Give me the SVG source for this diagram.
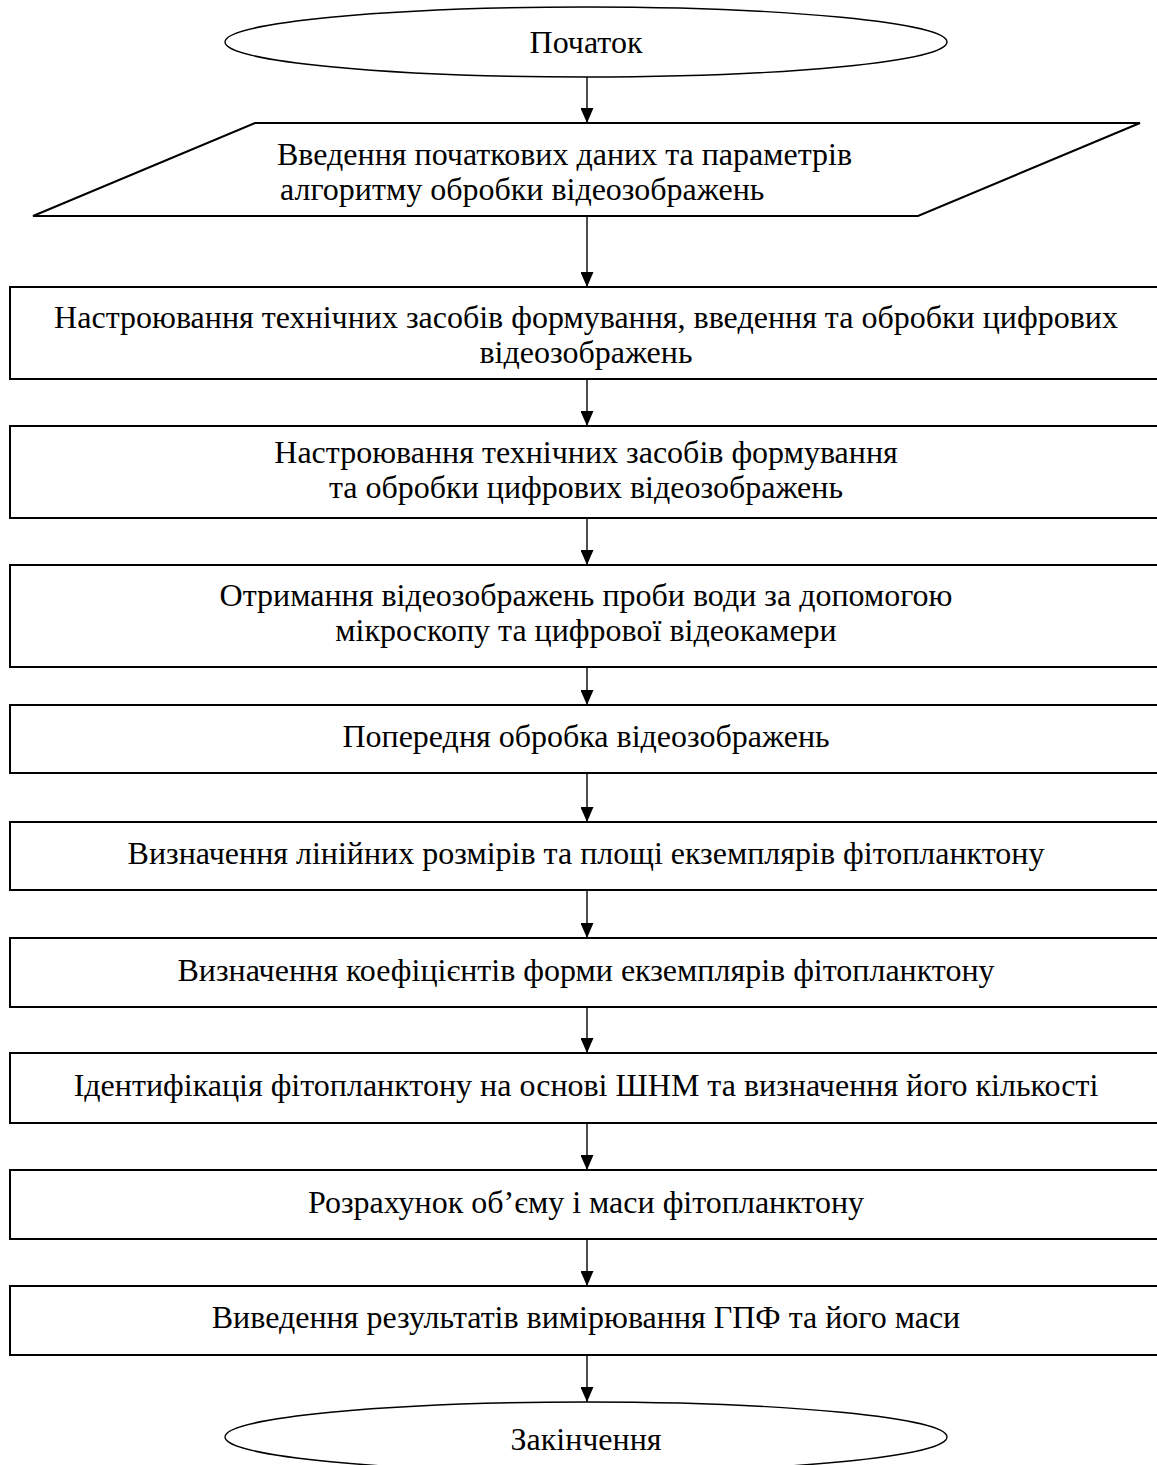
<svg xmlns="http://www.w3.org/2000/svg" width="1157" height="1465" viewBox="0 0 1157 1465">
  <style>
    .shape { fill: #ffffff; stroke: #000000; stroke-width: 2; }
    .term { fill: #ffffff; stroke: #000000; stroke-width: 1.4; }
    .lbl { font-family: "Liberation Serif", "Times New Roman", serif; font-size: 32px; fill: #000000; }
    .mid { text-anchor: middle; }
    .conn { stroke: #000000; stroke-width: 1.4; fill: none; marker-end: url(#arrow); }
  </style>
  <defs>
    <!-- filled arrowhead, tip at the end of the line -->
    <marker id="arrow" markerUnits="userSpaceOnUse" markerWidth="15" markerHeight="13" refX="15" refY="6.5" orient="auto" viewBox="0 0 15 13">
      <path d="M0,0 L15,6.5 L0,13 Z" fill="#000000"/>
    </marker>
  </defs>
  <rect width="1157" height="1465" fill="#ffffff"/>

  <!-- connectors -->
  <g id="connectors">
    <line class="conn" x1="587" y1="77" x2="587" y2="123"/>
    <line class="conn" x1="587" y1="216" x2="587" y2="287"/>
    <line class="conn" x1="587" y1="379" x2="587" y2="426"/>
    <line class="conn" x1="587" y1="518" x2="587" y2="565"/>
    <line class="conn" x1="587" y1="667" x2="587" y2="705"/>
    <line class="conn" x1="587" y1="773" x2="587" y2="822"/>
    <line class="conn" x1="587" y1="890" x2="587" y2="938"/>
    <line class="conn" x1="587" y1="1007" x2="587" y2="1053"/>
    <line class="conn" x1="587" y1="1123" x2="587" y2="1170"/>
    <line class="conn" x1="587" y1="1239" x2="587" y2="1286"/>
    <line class="conn" x1="587" y1="1355" x2="587" y2="1402"/>
  </g>

  <g id="start">
    <ellipse class="term" cx="586" cy="42" rx="361" ry="35"/>
    <text class="lbl mid" x="586" y="53">Початок</text>
  </g>

  <g id="input">
    <polygon class="shape" points="255,123 1140,123 918,216 33,216"/>
    <text class="lbl" x="277" y="165">Введення початкових даних та параметрів</text>
    <text class="lbl" x="280" y="200">алгоритму обробки відеозображень</text>
  </g>

  <g id="step1">
    <rect class="shape" x="10" y="287" width="1160" height="92"/>
    <text class="lbl mid" x="586" y="328">Настроювання технічних засобів формування, введення та обробки цифрових</text>
    <text class="lbl mid" x="586" y="363">відеозображень</text>
  </g>

  <g id="step2">
    <rect class="shape" x="10" y="426" width="1160" height="92"/>
    <text class="lbl mid" x="586" y="463">Настроювання технічних засобів формування</text>
    <text class="lbl mid" x="586" y="498">та обробки цифрових відеозображень</text>
  </g>

  <g id="step3">
    <rect class="shape" x="10" y="565" width="1160" height="102"/>
    <text class="lbl mid" x="586" y="606">Отримання відеозображень проби води за допомогою</text>
    <text class="lbl mid" x="586" y="641">мікроскопу та цифрової відеокамери</text>
  </g>

  <g id="step4">
    <rect class="shape" x="10" y="705" width="1160" height="68"/>
    <text class="lbl mid" x="586" y="747">Попередня обробка відеозображень</text>
  </g>

  <g id="step5">
    <rect class="shape" x="10" y="822" width="1160" height="68"/>
    <text class="lbl mid" x="586" y="864">Визначення лінійних розмірів та площі екземплярів фітопланктону</text>
  </g>

  <g id="step6">
    <rect class="shape" x="10" y="938" width="1160" height="69"/>
    <text class="lbl mid" x="586" y="981">Визначення коефіцієнтів форми екземплярів фітопланктону</text>
  </g>

  <g id="step7">
    <rect class="shape" x="10" y="1053" width="1160" height="70"/>
    <text class="lbl mid" x="586" y="1096">Ідентифікація фітопланктону на основі ШНМ та визначення його кількості</text>
  </g>

  <g id="step8">
    <rect class="shape" x="10" y="1170" width="1160" height="69"/>
    <text class="lbl mid" x="586" y="1213">Розрахунок об’єму і маси фітопланктону</text>
  </g>

  <g id="step9">
    <rect class="shape" x="10" y="1286" width="1160" height="69"/>
    <text class="lbl mid" x="586" y="1328">Виведення результатів вимірювання ГПФ та його маси</text>
  </g>

  <g id="end">
    <ellipse class="term" cx="586" cy="1437" rx="361" ry="35"/>
    <text class="lbl mid" x="586" y="1450">Закінчення</text>
  </g>
</svg>
